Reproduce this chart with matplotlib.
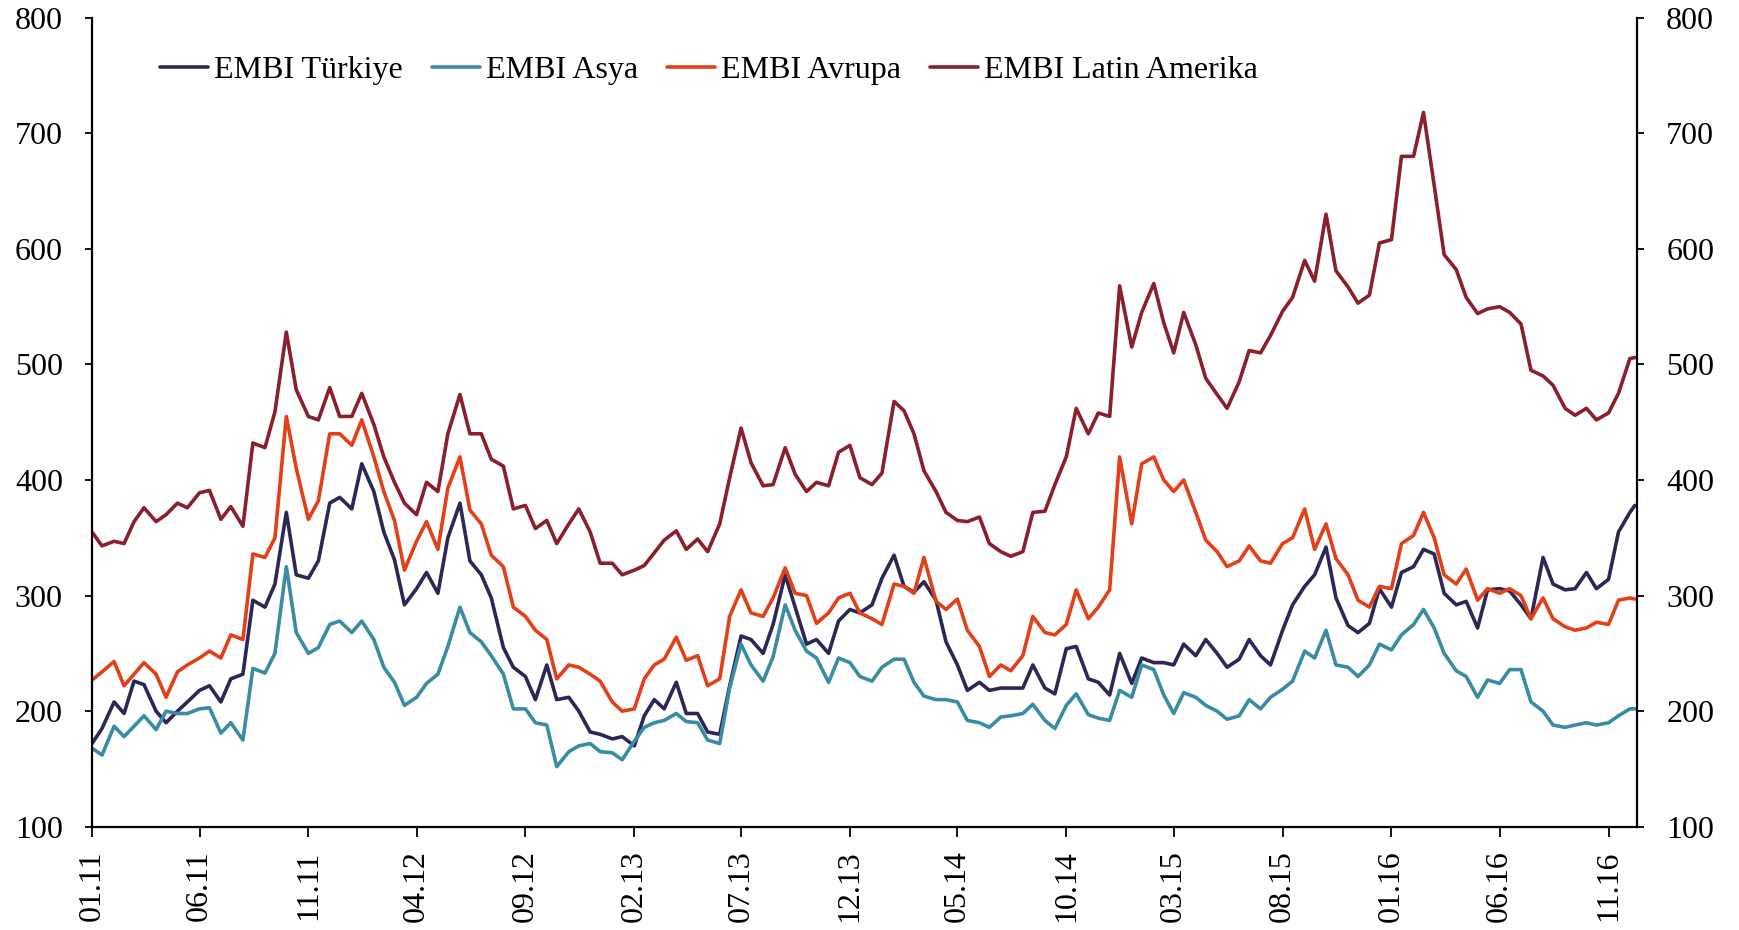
import matplotlib
matplotlib.use('Agg')
import matplotlib.pyplot as plt
import matplotlib.dates as mdates
import pandas as pd

# semi-monthly points, Jan 2011 .. Dec 2016 (last point early Dec 2016)
dates = list(pd.date_range('2011-01-01', periods=143, freq='SMS')) + [pd.Timestamp('2016-12-08')]

turkiye = [
    172, 185, 208, 198, 226, 223, 200, 190, 200, 208, 218, 222, 208, 228, 232, 296, 290, 310,
    372, 318, 315, 330, 380, 385, 375, 414, 390, 355, 331, 292, 306, 320, 302, 350, 380, 330,
    318, 298, 255, 238, 230, 210, 240, 210, 212, 200, 182, 180, 176, 178, 170, 196, 210, 202,
    225, 198, 198, 182, 180, 222, 265, 262, 250, 275, 318, 290, 258, 262, 250, 278, 288, 285,
    292, 315, 335, 308, 303, 312, 296, 260, 240, 218, 225, 218, 220, 220, 220, 240, 220, 215,
    254, 256, 228, 225, 214, 250, 224, 246, 242, 242, 240, 258, 248, 262, 250, 238, 245, 262,
    248, 240, 270, 292, 308, 318, 342, 298, 274, 268, 276, 306, 290, 320, 325, 340, 336, 302,
    292, 295, 272, 305, 306, 304, 292, 280, 333, 310, 305, 306, 320, 306, 314, 355, 372, 378,
]
asya = [
    168, 162, 187, 178, 187, 196, 184, 200, 198, 198, 202, 203, 181, 190, 175, 237, 233, 250,
    325, 268, 250, 255, 275, 278, 268, 278, 262, 238, 225, 205, 212, 224, 232, 256, 290, 268,
    260, 248, 232, 202, 202, 190, 188, 152, 165, 170, 172, 165, 164, 158, 174, 186, 190, 192,
    198, 191, 190, 175, 172, 220, 258, 240, 226, 247, 292, 270, 252, 246, 225, 246, 242, 230,
    226, 238, 245, 245, 225, 213, 210, 210, 208, 192, 190, 186, 195, 196, 198, 206, 192, 185,
    205, 215, 197, 194, 192, 218, 212, 240, 236, 214, 198, 216, 212, 205, 200, 193, 196, 210,
    202, 212, 219, 226, 252, 246, 270, 240, 238, 230, 240, 258, 253, 266, 275, 288, 272, 250,
    235, 230, 212, 227, 224, 236, 236, 208, 200, 188, 186, 188, 190, 188, 190, 196, 202, 202,
]
avrupa = [
    227, 234, 243, 222, 232, 242, 232, 212, 234, 240, 246, 252, 246, 266, 262, 336, 333, 350,
    455, 410, 366, 382, 440, 440, 430, 452, 420, 390, 365, 322, 347, 364, 340, 393, 420, 374,
    362, 335, 325, 290, 282, 270, 262, 228, 240, 238, 232, 226, 208, 200, 202, 228, 240, 245,
    264, 244, 248, 222, 228, 282, 305, 285, 282, 298, 324, 302, 300, 276, 285, 298, 302, 285,
    280, 275, 310, 308, 302, 333, 295, 288, 297, 270, 256, 230, 240, 235, 248, 282, 268, 266,
    275, 305, 280, 290, 305, 420, 362, 414, 420, 400, 390, 400, 372, 348, 338, 325, 330, 343,
    330, 328, 345, 350, 375, 340, 362, 332, 318, 296, 290, 308, 306, 345, 352, 372, 350, 318,
    310, 323, 296, 306, 302, 306, 300, 280, 298, 280, 273, 270, 272, 277, 275, 296, 298, 297,
]
latin = [
    355, 343, 347, 345, 364, 376, 364, 370, 380, 376, 389, 391, 366, 377, 360, 432, 428, 459,
    528, 478, 455, 452, 480, 455, 455, 475, 448, 420, 398, 380, 370, 398, 390, 440, 474, 440,
    440, 418, 412, 375, 378, 358, 365, 345, 362, 375, 355, 328, 328, 318, 322, 326, 337, 348,
    356, 340, 349, 338, 362, 402, 445, 415, 395, 396, 428, 405, 390, 398, 395, 424, 430, 402,
    396, 406, 468, 460, 440, 408, 390, 372, 365, 364, 368, 345, 338, 334, 338, 372, 373, 396,
    420, 462, 440, 458, 455, 568, 515, 545, 570, 536, 510, 545, 517, 488, 474, 462, 485, 512,
    510, 525, 546, 558, 590, 572, 630, 581, 567, 553, 560, 605, 608, 680, 680, 718, 655, 595,
    582, 558, 544, 548, 550, 545, 535, 495, 490, 482, 462, 456, 462, 452, 458, 475, 505, 506,
]

series = [
    ('EMBI Türkiye', turkiye, '#2c2757'),
    ('EMBI Asya', asya, '#3a8ca2'),
    ('EMBI Avrupa', avrupa, '#e3401a'),
    ('EMBI Latin Amerika', latin, '#8a1f2e'),
]

plt.rcParams['font.family'] = ['Liberation Serif', 'DejaVu Serif']

fig = plt.figure(figsize=(17.4, 9.3), dpi=100)
ax = fig.add_axes([0.0529, 0.111, 0.8879, 0.870])

for name, vals, col in series:
    ax.plot(dates, vals, color=col, linewidth=2.6, label=name,
            solid_joinstyle='round', solid_capstyle='round')

ax.set_ylim(100, 800)
ax.set_yticks(range(100, 801, 100))
ax.set_xlim(pd.Timestamp('2011-01-01'), pd.Timestamp('2016-12-11'))
ax.set_xticks(pd.date_range('2011-01-01', '2016-11-01', freq='5MS'))
ax.xaxis.set_major_formatter(mdates.DateFormatter('%m.%y'))

for s in ['left', 'right', 'bottom']:
    ax.spines[s].set_linewidth(1.6)
ax.spines['top'].set_visible(False)

ax.tick_params(axis='y', which='major', direction='out', length=5, width=1.3,
               labelsize=23, pad=16, right=True, labelright=True)
ax.tick_params(axis='x', which='major', direction='out', length=7, width=1.3,
               labelsize=23, pad=10, labelrotation=90)

ax.legend(loc='center left', bbox_to_anchor=(0.044, 0.935), ncol=4, frameon=False,
          fontsize=23, handlelength=1.5, handletextpad=0.2, columnspacing=0.9,
          borderpad=0, borderaxespad=0)

fig.savefig('out.png', dpi=100)
